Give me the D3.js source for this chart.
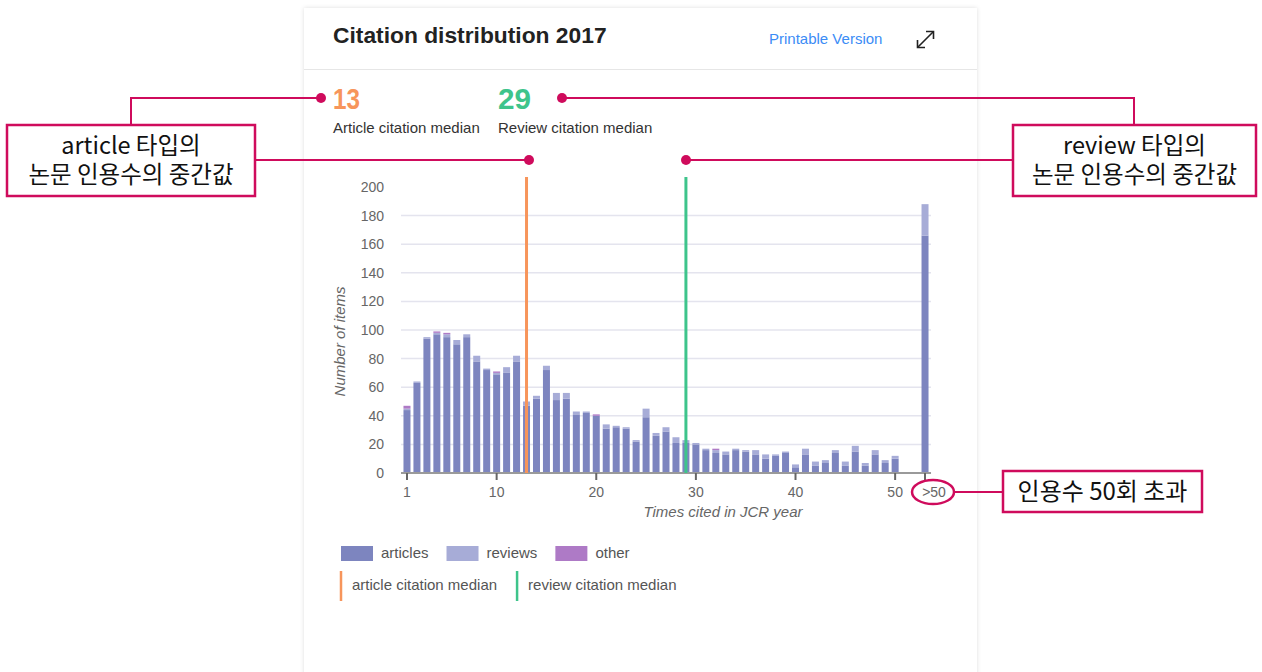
<!DOCTYPE html>
<html>
<head>
<meta charset="utf-8">
<script src="https://cdn.jsdelivr.net/npm/d3@7"></script>
<style>
  html, body { margin: 0; padding: 0; background: #fff; }
  svg { display: block; font-family: "Liberation Sans", Arial, sans-serif; }
  .ko { font-family: "Noto Sans CJK KR", sans-serif; }
</style>
</head>
<body>
<svg width="1262" height="672"></svg>
<script>
// bins 1..50 and ">50"
var binLabels = d3.range(1, 51).map(String).concat([">50"]);
var articles = [44,63,94,97,95,90,95,78,72,69,70,78,47,52,72,51,52,41,42,40,31,32,31,22,39,26,29,21,21,20,16,14,13,16,15,13,10,12,14,4,13,5,7,14,5,15,5,13,7,10,166];
var reviews  = [1,1,1,1,2,3,2,4,1,1,4,4,3,2,3,5,4,2,1,0,3,1,1,1,6,2,3,4,2,1,1,2,2,1,1,3,3,1,1,2,4,3,2,2,3,4,2,3,2,2,22];
var other    = [2,0,0,1,1,0,0,0,0,1,0,0,0,0,0,0,0,0,0,1,0,0,0,0,0,0,0,0,0,0,0,1,0,0,0,0,0,0,0,0,0,0,0,0,0,0,0,0,0,0,0];
var xTicks = [1, 10, 20, 30, 40, 50, ">50"];
var yTicks = [0, 20, 40, 60, 80, 100, 120, 140, 160, 180, 200];
var articleMedian = 13, reviewMedian = 29;

var colors = {articles: "#7d85bf", reviews: "#a7acd7", other: "#ae7ac6"};
var orange = "#f7955b", green = "#3ec48b", crimson = "#cf0b5c";

var svg = d3.select("svg");

// position on the axis: ">50" sits two slots after 50
function binPos(label) { return label === ">50" ? 53 : +label; }

var rows = binLabels.map(function(b, i) {
  return {bin: b, articles: articles[i], reviews: reviews[i], other: other[i]};
});

// card
var defs = svg.append("defs");
var f = defs.append("filter").attr("id", "sh").attr("x", "-5%").attr("y", "-5%").attr("width", "110%").attr("height", "110%");
f.append("feDropShadow").attr("dx", 0).attr("dy", 0).attr("stdDeviation", 2).attr("flood-color", "#000").attr("flood-opacity", 0.13);

svg.append("rect").attr("x", 304).attr("y", 8).attr("width", 673).attr("height", 720)
  .attr("fill", "#fff").attr("filter", "url(#sh)");
svg.append("line").attr("x1", 304).attr("x2", 977).attr("y1", 69.5).attr("y2", 69.5)
  .attr("stroke", "#e6e6e6").attr("stroke-width", 1.2);

svg.append("text").attr("x", 333).attr("y", 43).text("Citation distribution 2017")
  .attr("font-size", 22.8).attr("font-weight", "bold").attr("fill", "#222");
svg.append("text").attr("x", 769).attr("y", 44).text("Printable Version")
  .attr("font-size", 15).attr("fill", "#3b8cf6");

// expand icon
var ic = svg.append("g").attr("stroke", "#222").attr("stroke-width", 1.6).attr("fill", "none");
ic.append("line").attr("x1", 918).attr("y1", 47).attr("x2", 933).attr("y2", 32);
ic.append("path").attr("d", "M926,31.5 L933.5,31.5 L933.5,39");
ic.append("path").attr("d", "M917.5,40 L917.5,47.5 L925,47.5");

// medians in header
svg.append("text").attr("x", 333).attr("y", 109).text(articleMedian)
  .attr("font-size", 30).attr("font-weight", "bold").attr("fill", orange)
  .attr("textLength", 27).attr("lengthAdjust", "spacingAndGlyphs");
svg.append("text").attr("x", 333).attr("y", 133).text("Article citation median")
  .attr("font-size", 15).attr("fill", "#333");
svg.append("text").attr("x", 498).attr("y", 109).text(reviewMedian)
  .attr("font-size", 30).attr("font-weight", "bold").attr("fill", green)
  .attr("textLength", 33).attr("lengthAdjust", "spacingAndGlyphs");
svg.append("text").attr("x", 498).attr("y", 133).text("Review citation median")
  .attr("font-size", 15).attr("fill", "#333");

// scales
var x = d3.scaleLinear().domain([0.4, 53.6]).range([401, 931]);
var y = d3.scaleLinear().domain([0, 200]).range([473, 187]);
var barW = 7;

// grid
svg.append("g").selectAll("line").data(yTicks.filter(function(t) { return t > 0 && t < 200; }))
  .enter().append("line")
  .attr("x1", x.range()[0]).attr("x2", x.range()[1])
  .attr("y1", function(d) { return y(d); }).attr("y2", function(d) { return y(d); })
  .attr("stroke", "#e4e4ee").attr("stroke-width", 1.5);

// y labels
svg.append("g").selectAll("text").data(yTicks).enter().append("text")
  .attr("x", 384).attr("y", function(d) { return y(d); }).attr("dy", "0.35em")
  .attr("text-anchor", "end").attr("font-size", 14).attr("fill", "#666")
  .text(function(d) { return d; });

svg.append("text").attr("transform", "translate(345," + y(92) + ") rotate(-90)")
  .attr("text-anchor", "middle").attr("font-size", 15).attr("font-style", "italic")
  .attr("fill", "#666").text("Number of items");

// bars
var stack = d3.stack().keys(["articles", "reviews", "other"]);
var series = stack(rows);
svg.append("g").selectAll("g").data(series).enter().append("g")
  .attr("fill", function(s) { return colors[s.key]; })
  .selectAll("rect").data(function(s) { return s; }).enter().append("rect")
  .attr("x", function(d) { return x(binPos(d.data.bin)) - barW / 2; })
  .attr("width", barW)
  .attr("y", function(d) { return y(d[1]); })
  .attr("height", function(d) { return y(d[0]) - y(d[1]); });

// x axis
var xg = svg.append("g").attr("transform", "translate(0," + y(0) + ")");
xg.append("line").attr("x1", x.range()[0]).attr("x2", x(53) + 6)
  .attr("stroke", "#9a9a9a").attr("stroke-width", 2);
var tk = xg.selectAll("g.tick").data(xTicks).enter().append("g").attr("class", "tick")
  .attr("transform", function(d) { return "translate(" + x(binPos(String(d))) + ",0)"; });
tk.append("line").attr("y1", 0).attr("y2", 7).attr("stroke", "#666").attr("stroke-width", 2);
tk.append("text").attr("y", 24).attr("text-anchor", "middle").attr("font-size", 14)
  .attr("dx", function(d) { return d === ">50" ? 9 : 0; })
  .attr("fill", "#666").text(function(d) { return d; });
svg.append("text").attr("x", 723).attr("y", 517).attr("text-anchor", "middle")
  .attr("font-size", 15).attr("font-style", "italic").attr("fill", "#666")
  .text("Times cited in JCR year");

// median lines
[[articleMedian, orange], [reviewMedian, green]].forEach(function(m) {
  svg.append("line").attr("x1", x(m[0])).attr("x2", x(m[0]))
    .attr("y1", y(207)).attr("y2", y(0))
    .attr("stroke", m[1]).attr("stroke-width", 3);
});

// legend
var lg = svg.append("g");
var lx = 341;
["articles", "reviews", "other"].forEach(function(k) {
  lg.append("rect").attr("x", lx).attr("y", 546).attr("width", 32).attr("height", 15).attr("fill", colors[k]);
  var t = lg.append("text").attr("x", lx + 40).attr("y", 558).attr("font-size", 15).attr("fill", "#555").text(k);
  lx += 40 + t.node().getComputedTextLength() + 18;
});
lx = 341;
[["article citation median", orange], ["review citation median", green]].forEach(function(m) {
  lg.append("line").attr("x1", lx).attr("x2", lx).attr("y1", 571).attr("y2", 601)
    .attr("stroke", m[1]).attr("stroke-width", 2.5);
  var t = lg.append("text").attr("x", lx + 11).attr("y", 590).attr("font-size", 15).attr("fill", "#555").text(m[0]);
  lx += 11 + t.node().getComputedTextLength() + 20;
});

// annotations
var an = svg.append("g");
function dot(cx, cy) { an.append("circle").attr("cx", cx).attr("cy", cy).attr("r", 5).attr("fill", crimson); }
function path(d) { an.append("path").attr("d", d).attr("fill", "none").attr("stroke", crimson).attr("stroke-width", 2); }
function box(x0, y0, w, h, lines, fs, lh) {
  an.append("rect").attr("x", x0).attr("y", y0).attr("width", w).attr("height", h)
    .attr("fill", "#fff").attr("stroke", crimson).attr("stroke-width", 2.5);
  // one text element, one tspan per line
  var t = an.append("text").attr("class", "ko").attr("text-anchor", "middle")
    .attr("font-size", fs).attr("fill", "#111");
  lines.forEach(function(s, i) {
    t.append("tspan").attr("x", x0 + w / 2)
      .attr("y", y0 + h / 2 + (i - (lines.length - 1) / 2) * lh)
      .attr("dy", "0.36em").text(s);
  });
}
path("M320,98 H131 V125");
path("M255,160 H529");
dot(321, 98); dot(529, 160);
box(7, 125, 248, 71, ["article 타입의", "논문 인용수의 중간값"], 23.5, 29);

path("M562,98 H1134 V125");
path("M1013,160 H686");
dot(562, 98); dot(686, 160);
box(1013, 125, 243, 71, ["review 타입의", "논문 인용수의 중간값"], 23.5, 29);

an.append("ellipse").attr("cx", x(53) + 8).attr("cy", 492).attr("rx", 21).attr("ry", 12)
  .attr("fill", "none").attr("stroke", crimson).attr("stroke-width", 2.5);
path("M954,492 H1003");
box(1003, 471, 199, 41, ["인용수 50회 초과"], 24, 0);
</script>
</body>
</html>
